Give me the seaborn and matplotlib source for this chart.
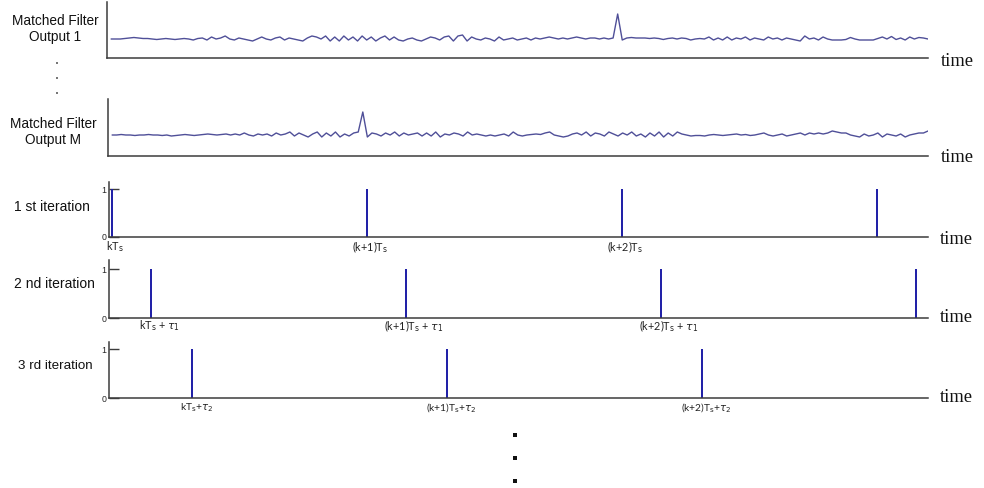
import numpy as np
import pandas as pd
import matplotlib
matplotlib.use("Agg")
import matplotlib.pyplot as plt
import seaborn as sns

# ---------------- data ----------------
# matched filter output 1 (deviation from baseline, arbitrary px units)
output_1 = [
    0, 0, 0, 0.5, 1, 1.5, 1, 0.5, 0.5, 0,
    -0.5, 0, 0.5, 0, -0.5, 0, 0.5, 0, -1, 0.5,
    1, -1, 2, 0, 1, 3, 0, -1, 1, 0,
    -1, -2, 0, 2, 0, -1, 1, 2, -1, 1,
    0, -1, -2, 1, 3, 2, 0, 3, -2, 2,
    -2, 3, -1, 2, -2, 3, -1, 2, -2, 1,
    3, -1, 2, -1, -2, 0, 1, -1, -2, 0,
    2, 1, -1, 2, 3, -2, 3, 4, -2, 2,
    0, -1, 1, 0, -2, 2, -1, 0, 1, -1,
    0, 1, -1, 1, 0, 1, 2, 1, 0, 1,
    0, 1, 2, 1, 0, 1, 1, 0, 1, 0,
    1, 25, -1, 1, 1.5, 1, 1, 1, 0.5, 1,
    0.5, -0.5, 0.5, 1, 0, 1, 0.5, -1, 0, 0.5,
    0, 2, -1, 1, -1, 2, -1, 1, 0, 2,
    -1, 1, 0, -1, 2, 0, 1, -1, 1, 0,
    -1, -2, 3, 0, 1, -1, 2, 0, -1, -1,
    -1, -0.5, 1.5, 0, -1, -1, -1, -1, 0.5, 2,
    0, 2.5, -0.5, 1, -1, 2, 0, 1.5, 1, 0,
]

# matched filter output M
output_M = [
    0, 0, 0.5, 0, 0, -0.5, 0, 0, 0.5, 0,
    0, -0.5, 0, -1, -0.5, 0, 0.5, 0, -0.5, 0,
    0.5, 1, 0.5, 0, 0.5, 1, 0, 1, 0, 2,
    0, -1, 1, 0, 1, -1, 2, 0, 1, 3,
    -1, 2, 0, -2, 1, 3, -2, 2, -1, 3,
    -2, 1, -1, 2, 3, 23, -2, 2, 1, -1,
    2, 0, 3, -1, 2, 0, 1, 2, -1, 2,
    -1, 3, -2, 1, 0, 2, 1, -1, 3, 0,
    1, 0, -1, 0, -1, 0, 1, -1, 3, 0,
    -1, 0, 0.5, 1, 0.5, 2, 3, 0, -1, -2,
    -1, 1, 2, 0, 3, -1, 2, 1, -1, 3,
    1, -1, 2, 0, 3, -1, 1, -2, 2, -1,
    3, -2, 2, -1, 3, 1, 0, -1, -0.5, -0.5,
    -1, 0, 0.5, 0, -0.5, 0, 0.5, 1, 0, 0.5,
    -0.5, 0, 1, 2, 0, -1, 0, 1, -1, 0,
    1, 2, 0, 2, 1, 2, 1, 2, 4, 3,
    2, 2, 0, -1, -2, 1, -1, 0, 2, -2,
    1, 0, -1, 1, -2, 0, 1, 2, 2, 4,
]

signal_names = ["Matched Filter\nOutput 1", "Matched Filter\nOutput M"]

# sampling instants: k, k+1, k+2, k+3 (units of Ts), and per-iteration offsets tau
periods = [0, 1, 2, 3]
iteration_offsets = [0.0, 0.153, 0.314]
iteration_names = ["1 st iteration", "2 nd iteration", "3 rd iteration"]
iteration_labels = [
    [r"kT$_\mathrm{s}$", r"(k+1)T$_\mathrm{s}$", r"(k+2)T$_\mathrm{s}$"],
    [r"kT$_\mathrm{s}$ + $\tau_1$", r"(k+1)T$_\mathrm{s}$ + $\tau_1$", r"(k+2)T$_\mathrm{s}$ + $\tau_1$"],
    [r"kT$_\mathrm{s}$+$\tau_2$", r"(k+1)T$_\mathrm{s}$+$\tau_2$", r"(k+2)T$_\mathrm{s}$+$\tau_2$"],
]
pulse_height = [1, 1, 1]
ytick_values = [0, 1]
axis_word = "time"

# ---------------- style ----------------
sns.set_theme(style="white")
plt.rcParams['font.family'] = ['Liberation Sans', 'DejaVu Sans']
plt.rcParams['mathtext.fontset'] = 'dejavusans'

W, H = 984, 488
fig = plt.figure(figsize=(W / 100, H / 100), dpi=100)
fig.patch.set_facecolor("white")

SIG = "#4f4f98"
STEM = "#1c1ca6"
SPINE = "#3c3c3c"


def px_axes(x0, y0, x1, y1):
    return fig.add_axes([x0 / W, 1 - y1 / H, (x1 - x0) / W, (y1 - y0) / H])


def style_axes(ax):
    for s in ["top", "right"]:
        ax.spines[s].set_visible(False)
    for s in ["left", "bottom"]:
        ax.spines[s].set_color(SPINE)
        ax.spines[s].set_linewidth(1.1)
    ax.set_facecolor("none")
    ax.set_xlabel(None)
    ax.set_ylabel(None)


# ---------------- matched filter outputs ----------------
sig_boxes = [(107, 2, 928, 58), (108, 99, 928, 156)]
sig_ylims = [(-19, 37), (-21, 36)]
sig_label_pos = [(55, 29), (53, 132)]
sig_time_y = [61, 158]

for vals, box, ylim, name, lp, ty in zip([output_1, output_M], sig_boxes, sig_ylims,
                                         signal_names, sig_label_pos, sig_time_y):
    ax = px_axes(*box)
    df = pd.DataFrame({"t": np.arange(len(vals)), "v": vals})
    sns.lineplot(data=df, x="t", y="v", ax=ax, color=SIG, linewidth=1.0)
    ax.set_xlim(-0.9, len(vals) - 1)
    ax.set_ylim(*ylim)
    ax.set_xticks([])
    ax.set_yticks([])
    style_axes(ax)
    fig.text(lp[0] / W, 1 - lp[1] / H, name, ha="center", va="center",
             fontsize=9.8, color="#111111", linespacing=1.25)
    fig.text(941 / W, 1 - ty / H, axis_word, ha="left", va="center",
             fontsize=13.3, family="Liberation Serif", color="#111111")

# ---------------- iterations ----------------
iter_boxes = [(109, 182, 928, 237), (109, 260, 928, 318), (109, 342, 928, 398)]
iter_ytop = [1.146, 1.184, 1.143]
iter_name_y = [207, 284, 366]
iter_name_x = [52, 54, 55]
iter_name_size = [10, 10, 9.6]
iter_time_y = [240, 317, 397]
label_dx = [3, 8, 4]
label_dy = [-10, -8, -10]
label_size = [7.8, 7.8, 7.3]
px_per_T = 255.0
first_px = 112.0

for i, (off, box) in enumerate(zip(iteration_offsets, iter_boxes)):
    ax = px_axes(*box)
    ts = [p + off for p in periods]
    lo = (box[0] - first_px) / px_per_T
    hi = (box[2] - first_px) / px_per_T
    shown = [t for t in ts if t <= hi]
    ax.vlines(shown, 0, pulse_height[i], color=STEM, linewidth=1.4)
    ax.set_xlim(lo, hi)
    ax.set_ylim(0, iter_ytop[i])
    ax.set_xticks([])
    ax.set_yticks(ytick_values)
    ax.set_yticklabels([str(v) for v in ytick_values])
    ax.tick_params(axis="y", direction="in", length=7, width=1, color=SPINE,
                   labelsize=6.3, pad=2, left=True)
    style_axes(ax)
    for t, lab in zip(ts, iteration_labels[i]):
        ax.annotate(lab, xy=(t, 0), xytext=(label_dx[i], label_dy[i]),
                    textcoords="offset pixels", ha="center", va="center",
                    fontsize=label_size[i], family=["Lato", "DejaVu Sans"],
                    color="#222222", annotation_clip=False)
    fig.text(iter_name_x[i] / W, 1 - iter_name_y[i] / H, iteration_names[i],
             ha="center", va="center", fontsize=iter_name_size[i], color="#111111")
    fig.text(940 / W, 1 - iter_time_y[i] / H, axis_word, ha="left", va="center",
             fontsize=13.3, family="Liberation Serif", color="#111111")

# ---------------- ellipsis dots ----------------
ov = fig.add_axes([0, 0, 1, 1])
ov.set_xlim(0, W)
ov.set_ylim(H, 0)
ov.axis("off")
ov.scatter([57, 57, 57], [63, 78, 93], s=2.5, marker="s", color="#777777", linewidths=0)
ov.scatter([515, 515, 515], [435, 458, 481], s=6, marker="s", color="#111111", linewidths=0)

fig.savefig("out.png", dpi=100)
